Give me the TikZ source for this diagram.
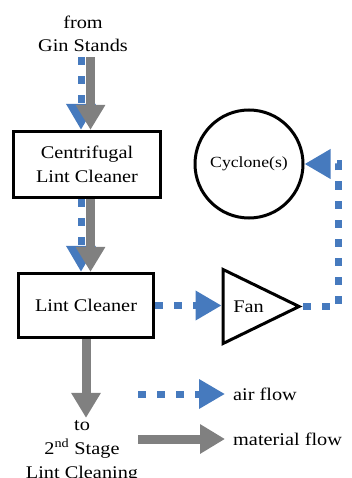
\documentclass[tikz,border=0pt]{standalone}
\usepackage{fontspec}
\setmainfont{Liberation Serif}[FakeStretch=1.14]
\usepackage{xcolor}
\usetikzlibrary{arrows.meta,positioning,shapes.geometric}
\definecolor{airblue}{RGB}{70,122,190}
\definecolor{flowgray}{RGB}{128,128,128}

\begin{document}
\begin{tikzpicture}[
  x=1pt, y=-1pt,
  font=\fontsize{17.8}{23.5}\selectfont,
  box/.style={draw, line width=3.2pt, align=center, inner sep=0pt},
  txt/.style={align=center, inner sep=2pt},
  airarr/.style={draw=airblue, line width=7pt, dash pattern=on 8pt off 11pt, -{Triangle[width=28pt,length=26pt]}},
  matarr/.style={draw=flowgray, line width=9pt, -{Triangle[width=28pt,length=25pt]}}
]
\useasboundingbox (0,0) rectangle (351,478);
\node[txt, inner ysep=5pt] (gin) at (83,34) {from\\Gin Stands};
\node[box, minimum width=147pt, minimum height=66pt] (cent) at (87,164.5) {Centrifugal\\Lint Cleaner};
\node[box, minimum width=135pt, minimum height=64pt] (lint) at (86,305.5) {Lint Cleaner};
\node[draw, circle, line width=3pt, minimum size=108pt, inner sep=0pt, font=\fontsize{15.5}{18}\selectfont] (cyc) at (249,164) {Cyclone(s)};
\node[draw, isosceles triangle, isosceles triangle stretches, line width=3pt, minimum width=74pt, minimum height=76pt, inner sep=0pt, anchor=apex] (fan) at (303,306.5) {Fan};
\node[txt, font=\fontsize{17.8}{24}\selectfont] (to) at (82,451) {to\\2\textsuperscript{nd} Stage\\Lint Cleaning};
\node[anchor=west, inner xsep=8pt] (airlbl) at (225,394) {air flow};
\node[anchor=west, inner xsep=8pt] (matlbl) at (225,439) {material flow};
\coordinate (airstart) at (138,394);
\coordinate (matstart) at (138,439);
\draw[airarr] ([xshift=-6pt]cent.north |- gin.south) -- ([xshift=-6pt]cent.north);
\draw[matarr] ([xshift=3.5pt]cent.north |- gin.south) -- ([xshift=3.5pt]cent.north);
\draw[airarr] ([xshift=-6pt]cent.south) -- ([xshift=-6pt]cent.south |- lint.north);
\draw[matarr] ([xshift=3.5pt]cent.south) -- ([xshift=3.5pt]cent.south |- lint.north);
\draw[airarr] (lint.east) -- (lint.east -| fan.lower side);
\draw[airarr] (fan.apex) -- ++(35,0) |- (cyc.east);
\draw[matarr] (lint.south) -- (lint.south |- to.north);
\draw[airarr] (airstart) -- (airlbl.west);
\draw[matarr] (matstart) -- (matlbl.west);
\end{tikzpicture}
\end{document}
